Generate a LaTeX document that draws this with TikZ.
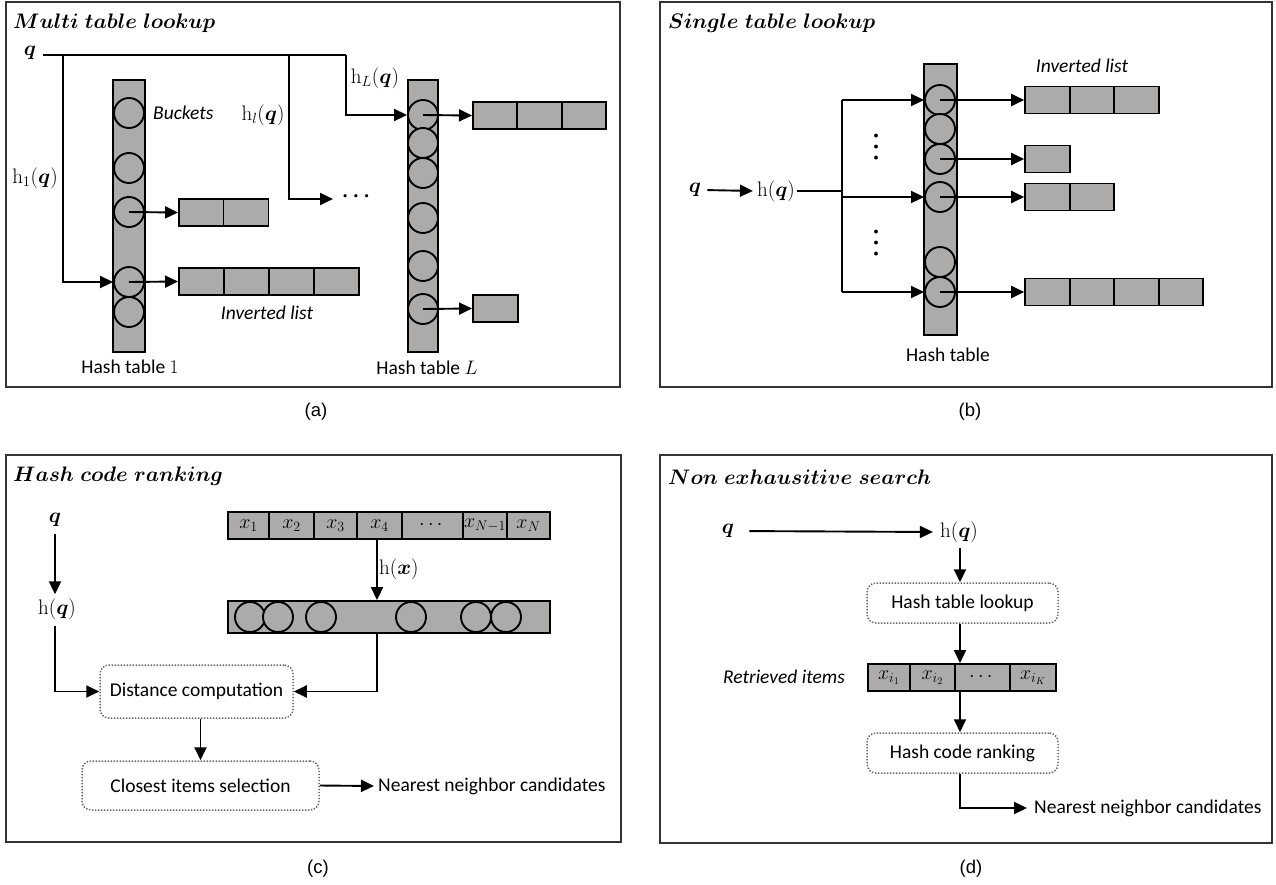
\RequirePackage{fix-cm}
\documentclass[tikz,border=0pt]{standalone}
\usepackage{amsmath}
\usepackage{bm}
\usepackage{fontspec}
\usetikzlibrary{arrows.meta}
\newfontfamily\carl{Carlito}
\newfontfamily\liber{Liberation Sans}
\newcommand{\myss}{\carl\fontsize{19.5}{22}\selectfont}
\newcommand{\myssit}{\carl\itshape\fontsize{19.5}{22}\selectfont}
\newcommand{\mymath}{\fontsize{21}{24}\selectfont}
\newcommand{\mycell}{\fontsize{20}{22}\selectfont}
\newcommand{\mytitle}{\fontsize{21}{24}\selectfont}
\newcommand{\mycap}{\liber\fontsize{18.5}{22}\selectfont}
\newcommand{\mydotfont}{\carl\bfseries\fontsize{26}{26}\selectfont}
\definecolor{cellgray}{RGB}{173,170,170}
\tikzset{
 panel/.style={draw=black!80, line width=1.3pt},
 htab/.style={draw, fill=cellgray, line width=1.9pt, inner sep=0},
 bucket/.style={circle, draw, fill=cellgray, line width=1.9pt, minimum size=30pt, inner sep=0},
 cellw/.style={draw, fill=cellgray, line width=1.9pt, minimum height=27pt, minimum width=#1, inner sep=0, font=\mycell},
 conn/.style={line width=1.9pt},
 arr/.style={conn, -{Triangle[length=13pt,width=12pt]}},
 dotbox/.style={draw=black!60, dash pattern=on 1.4pt off 1.6pt, line width=1.5pt, rounded corners=9pt, inner sep=0, font=\myss},
 lab/.style={font=\myss, inner sep=2pt},
 ilab/.style={font=\myssit, inner sep=2pt},
 mlab/.style={font=\mymath, inner sep=2pt},
 ttl/.style={anchor=west, font=\mytitle, inner sep=0},
 capt/.style={font=\mycap},
 vdot/.style={font=\mydotfont, rotate=90, inner sep=0}
}
\begin{document}
\begin{tikzpicture}[x=1pt,y=-1pt]
\useasboundingbox (0,0) rectangle (1276,884);
% ---------- panels ----------
\draw[panel] (6,2) rectangle (620,387);
\draw[panel] (660,2) rectangle (1272,387);
\draw[panel] (6,455) rectangle (621,842);
\draw[panel] (660,455) rectangle (1272,843);
\node[ttl] (ta) at (13,23) {$\bm{Multi\ table\ lookup}$};
\node[ttl] (tb) at (668,23) {$\bm{Single\ table\ lookup}$};
\node[ttl] (tc) at (13,476) {$\bm{Hash\ code\ ranking}$};
\node[ttl] (td) at (668,477) {$\bm{Non\ exhausitive\ search}$};
\node[capt] (ca) at (316,412) {(a)};
\node[capt] (cb) at (970,412) {(b)};
\node[capt] (cc) at (318,869) {(c)};
\node[capt] (cd) at (971,869) {(d)};
% ---------- (a) ----------
\node[htab, minimum width=32pt, minimum height=272pt] (ht1) at (129,216) {};
\node[bucket] (a1) at (129,113) {};
\node[bucket] (a2) at (129,168) {};
\node[bucket] (a3) at (129,212) {};
\node[bucket] (a4) at (129,282) {};
\node[bucket] (a5) at (129,312) {};
\node[htab, minimum width=30pt, minimum height=272pt] (htL) at (423,216) {};
\node[bucket] (L1) at (423,115) {};
\node[bucket] (L2) at (423,143) {};
\node[bucket] (L3) at (423,173) {};
\node[bucket] (L4) at (423,218) {};
\node[bucket] (L5) at (423,266) {};
\node[bucket] (L6) at (423,309) {};
\node[cellw=45pt] (pa1) at (201.5,212.5) {};
\node[cellw=45pt] (pa2) at (246,212.5) {};
\node[cellw=45pt] (pb1) at (201.5,281.5) {};
\node[cellw=45pt] (pb2) at (246.5,281.5) {};
\node[cellw=45pt] (pb3) at (291.5,281.5) {};
\node[cellw=45pt] (pb4) at (336.5,281.5) {};
\node[cellw=44.5pt] (pc1) at (495.2,115.5) {};
\node[cellw=44.5pt] (pc2) at (539.5,115.5) {};
\node[cellw=44.5pt] (pc3) at (583.8,115.5) {};
\node[cellw=45pt] (pd1) at (495.5,308.5) {};
\node[mlab] (qa) at (30,53) {$\bm{q}$};
\coordinate (qa0) at (43,55);
\coordinate (ja1) at (63,55);
\coordinate (ja2) at (289,55);
\coordinate (ja3) at (346,55);
\coordinate (tipA) at (333,199);
\node[mlab] (dotsA) at (358,197) {$\bm{\cdots}$};
\draw[conn] (qa0) -- (ja3);
\draw[arr] (ja3) |- (L1.west);
\draw[arr] (ja1) |- (a4.west);
\draw[arr] (ja2) |- (tipA);
\draw[arr] (a3.center) -- (pa1.west);
\draw[arr] (a4.center) -- (pb1.west);
\draw[arr] (L1.center) -- (pc1.west);
\draw[arr] (L6.center) -- (pd1.west);
\node[mlab] (h1a) at (35,178) {$\mathrm{h}_1(\bm{q})$};
\node[ilab, anchor=west] (bk) at (151,113) {Buckets};
\node[mlab] (hla) at (263,115) {$\mathrm{h}_l(\bm{q})$};
\node[mlab] (hLa) at (375,78) {$\mathrm{h}_L(\bm{q})$};
\node[ilab] (ila) at (267,313) {Inverted list};
\node[lab] (ht1l) at (130,367) {Hash table $1$};
\node[lab] (htLl) at (427,368) {Hash table $L$};
% ---------- (b) ----------
\node[htab, minimum width=33pt, minimum height=271pt] (htb) at (940.5,199.5) {};
\node[bucket] (b1) at (940,100) {};
\node[bucket] (b2) at (940,129) {};
\node[bucket] (b3) at (940,159) {};
\node[bucket] (b4) at (940,197) {};
\node[bucket] (b5) at (940,262) {};
\node[bucket] (b6) at (940,292) {};
\node[cellw=44.7pt] (ba1) at (1047.5,100) {};
\node[cellw=44.7pt] (ba2) at (1092,100) {};
\node[cellw=44.7pt] (ba3) at (1136.5,100) {};
\node[cellw=44.7pt] (bb1) at (1047.5,159) {};
\node[cellw=44.7pt] (bc1) at (1047.5,197) {};
\node[cellw=44.7pt] (bc2) at (1092,197) {};
\node[cellw=44.7pt] (bd1) at (1047.5,292) {};
\node[cellw=44.7pt] (bd2) at (1092,292) {};
\node[cellw=44.7pt] (bd3) at (1136.5,292) {};
\node[cellw=44.7pt] (bd4) at (1181,292) {};
\node[mlab] (qb) at (695,190) {$\bm{q}$};
\node[mlab] (hqb) at (776,191) {$\mathrm{h}(\bm{q})$};
\draw[arr, shorten <=4pt, shorten >=2pt] (qb.east) -- (hqb.west);
\coordinate (tb1) at (842,100);
\coordinate (tb2) at (842,292);
\draw[conn] (hqb.east) -- (hqb.east -| tb1);
\draw[conn] (tb1) -- (tb2);
\draw[arr] (tb1) -- (b1.west);
\draw[arr] (b4.west -| tb1) -- (b4.west);
\draw[arr] (tb2) -- (b6.west);
\draw[arr] (b1.center) -- (ba1.west);
\draw[arr] (b3.center) -- (bb1.west);
\draw[arr] (b4.center) -- (bc1.west);
\draw[arr] (b6.center) -- (bd1.west);
\node[vdot] (vd1) at (876,147) {.\kern4pt.\kern4pt.};
\node[vdot] (vd2) at (876,243) {.\kern4pt.\kern4pt.};
\node[ilab] (ilb) at (1082,66) {Inverted list};
\node[lab] (htbl) at (948,355) {Hash table};
% ---------- (c) ----------
\node[cellw=41pt] (c1) at (248.5,525.5) {$x_1$};
\node[cellw=45pt] (c2) at (291.5,525.5) {$x_2$};
\node[cellw=43pt] (c3) at (335.5,525.5) {$x_3$};
\node[cellw=45pt] (c4) at (379.5,525.5) {$x_4$};
\node[cellw=61pt] (c5) at (432.5,525.5) {$\cdots$};
\node[cellw=44pt] (c6) at (485,525.5) {$x_{N-1}$};
\node[cellw=43pt] (c7) at (528.5,525.5) {$x_N$};
\node[htab, minimum width=322pt, minimum height=32pt] (bar) at (389,617) {};
\node[bucket] (k1) at (250,617) {};
\node[bucket] (k2) at (278,617) {};
\node[bucket] (k3) at (321,617) {};
\node[bucket] (k4) at (411,617) {};
\node[bucket] (k5) at (476,617) {};
\node[bucket] (k6) at (506,617) {};
\coordinate (xc) at (377,539);
\draw[arr] (xc) -- (xc |- bar.north);
\node[mlab, anchor=west] (hx) at (377,569) {$\mathrm{h}(\bm{x})$};
\node[dotbox, minimum width=193pt, minimum height=53pt] (dist) at (196.5,691.5) {Distance computation};
\node[dotbox, minimum width=237pt, minimum height=49pt] (clo) at (200.5,785.5) {Closest items selection};
\draw[arr] (xc |- bar.south) |- (dist.east);
\draw[arr] (dist.south -| clo.north) -- (clo.north);
\node[lab, anchor=west] (nnc) at (376,786) {Nearest neighbor candidates};
\draw[arr, shorten >=2pt] (clo.east) -- (nnc.west);
\node[mlab] (qc) at (55,520) {$\bm{q}$};
\node[mlab] (hqc) at (57,609) {$\mathrm{h}(\bm{q})$};
\draw[arr, shorten <=5pt, shorten >=2pt] (qc.south) -- (qc.south |- hqc.north);
\draw[arr, shorten <=4pt] (qc.south |- hqc.south) |- (dist.west);
% ---------- (d) ----------
\node[mlab] (qd) at (728,531) {$\bm{q}$};
\node[mlab] (hqd) at (959,532) {$\mathrm{h}(\bm{q})$};
\draw[arr, shorten <=13pt, shorten >=5pt] (qd.east) -- (hqd.west);
\node[dotbox, minimum width=191pt, minimum height=40pt] (htl) at (962.5,603) {Hash table lookup};
\coordinate (xd) at (960,548);
\draw[arr] (xd) -- (xd |- htl.north);
\node[cellw=42pt] (r1) at (889,677.5) {$x_{i_1}$};
\node[cellw=45pt] (r2) at (932.5,677.5) {$x_{i_2}$};
\node[cellw=55pt] (r3) at (982.5,677.5) {$\cdots$};
\node[cellw=46pt] (r4) at (1033,677.5) {$x_{i_K}$};
\draw[arr] (xd |- htl.south) -- (xd |- r1.north);
\node[dotbox, minimum width=191pt, minimum height=40pt] (hcr) at (962.5,753) {Hash code ranking};
\draw[arr] (xd |- r1.south) -- (xd |- hcr.north);
\node[lab, anchor=west] (nnd) at (1032,808) {Nearest neighbor candidates};
\draw[arr, shorten >=5pt] (xd |- hcr.south) |- (nnd.west);
\node[ilab] (ri) at (784,677) {Retrieved items};
\end{tikzpicture}
\end{document}
